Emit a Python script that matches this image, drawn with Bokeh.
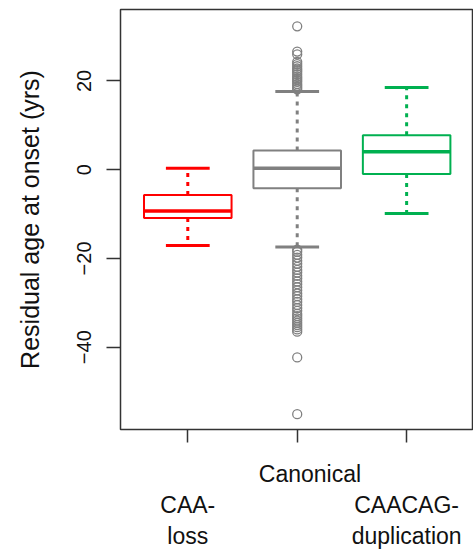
import numpy as np
from bokeh.plotting import figure
from bokeh.models import FixedTicker, Range1d
from bokeh.embed import file_html
from bokeh.resources import INLINE

# ---- data ----
groups = ["CAA-loss", "Canonical", "CAACAG-duplication"]
positions = [1, 2, 3]
lower_whisker = [-17.1, -17.4, -9.9]
q1 = [-10.9, -4.2, -1.0]
median = [-9.3, 0.3, 4.05]
q3 = [-5.7, 4.3, 7.75]
upper_whisker = [0.3, 17.6, 18.5]
colors = ["#FF0000", "#808080", "#00B050"]

canonical_outliers = [32.3, 26.6, 26.0, 24.3, 23.8, 23.3, 22.8, 22.4, 22.0, 21.5,
                      21.0, 20.6, 20.2, 19.8, 19.3, 18.9, 18.5, 18.1,
                      -18.0, -18.5, -19.2, -19.8, -20.5, -21.2, -21.9, -22.6,
                      -23.2, -23.9, -24.5, -25.2, -25.8, -26.5, -27.2, -27.9,
                      -28.5, -29.2, -29.8, -30.5, -31.2, -31.8, -32.5, -33.0,
                      -33.5, -34.0, -34.5, -35.0, -35.5, -36.0, -36.5, -42.3, -55.1]

y_ticks = [-40, -20, 0, 20]
y_title = "Residual age at onset (yrs)"
x_tick_labels = {
    1: "\nCAA-\nloss",
    2: "\u00a0\u00a0\u00a0\u00a0Canonical",
    3: "\nCAACAG-\nduplication",
}

FONT = "Liberation Sans"
W, H = 473, 552
TOP, FRAME_H = 9, 420

p = figure(width=W, height=H, output_backend="svg", toolbar_location=None,
           x_range=Range1d(0.385, 3.602), y_range=Range1d(-58.55, 36.09),
           min_border_left=120, min_border_right=1, min_border_top=TOP,
           min_border_bottom=H - TOP - FRAME_H)
p.grid.visible = False
p.outline_line_color = "#333333"
p.outline_line_width = 1.5
p.background_fill_color = "white"
p.border_fill_color = "white"

pos = np.array(positions, dtype=float)
hw = 0.4
cw = 0.2

# whiskers (dotted)
p.segment(x0=pos, y0=q3, x1=pos, y1=upper_whisker, line_color=colors,
          line_width=3, line_dash="4 5")
p.segment(x0=pos, y0=q1, x1=pos, y1=lower_whisker, line_color=colors,
          line_width=3, line_dash="4 5")
# caps
p.segment(x0=pos - cw, y0=upper_whisker, x1=pos + cw, y1=upper_whisker,
          line_color=colors, line_width=3)
p.segment(x0=pos - cw, y0=lower_whisker, x1=pos + cw, y1=lower_whisker,
          line_color=colors, line_width=3)
# boxes
p.quad(left=pos - hw, right=pos + hw, bottom=q1, top=q3, fill_color="white",
       line_color=colors, line_width=2)
# medians
p.segment(x0=pos - hw, y0=median, x1=pos + hw, y1=median, line_color=colors,
          line_width=3.5)
# outliers
p.scatter(x=[2] * len(canonical_outliers), y=canonical_outliers, marker="circle",
          size=9, fill_color=None, line_color=colors[1], line_width=1.3)

# axes
p.yaxis.ticker = FixedTicker(ticks=y_ticks)
p.xaxis.ticker = FixedTicker(ticks=positions)
p.xaxis.major_label_overrides = x_tick_labels
for ax in (p.xaxis[0], p.yaxis[0]):
    ax.axis_line_color = None
    ax.major_tick_line_color = "#333333"
    ax.major_tick_line_width = 1.5
    ax.major_tick_in = 0
    ax.minor_tick_line_color = None
    ax.major_label_text_font = FONT
    ax.major_label_text_color = "#111111"
p.yaxis.major_tick_out = 14
p.xaxis.major_tick_out = 13
p.xaxis.major_label_text_font_size = "23px"
p.xaxis.major_label_standoff = 18
p.yaxis.major_label_orientation = "vertical"
p.yaxis.major_label_text_font_size = "20px"
p.yaxis.major_label_standoff = 15
p.yaxis.axis_label = y_title
p.yaxis.axis_label_text_font = FONT
p.yaxis.axis_label_text_font_style = "normal"
p.yaxis.axis_label_text_font_size = "25px"
p.yaxis.axis_label_text_color = "#111111"
p.yaxis.axis_label_standoff = 31

open("out.html", "w").write(file_html(p, INLINE))
